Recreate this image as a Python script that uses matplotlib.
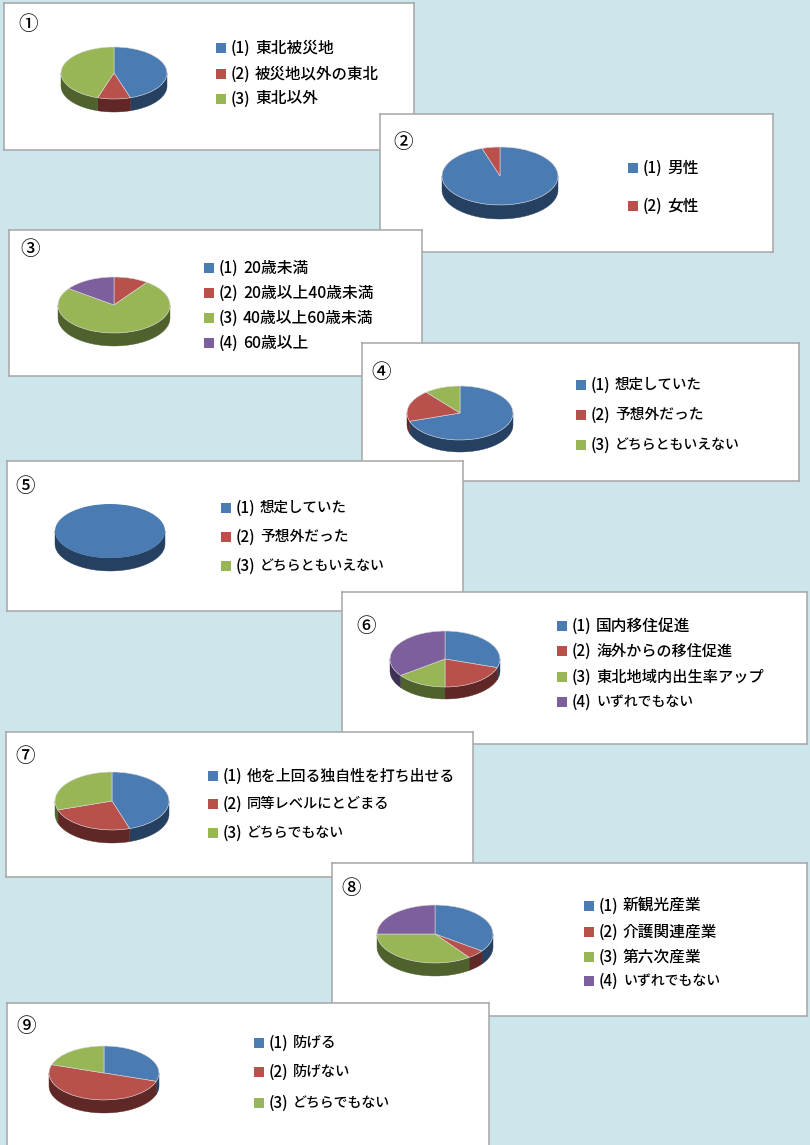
"""Nine survey answers shown as 3D-looking pies on overlapping white cards."""

import matplotlib
matplotlib.use("Agg")
import matplotlib.pyplot as plt
import numpy as np

plt.rcParams["font.family"] = ["Noto Sans CJK JP", "DejaVu Sans"]

# ---------------------------------------------------------------------------
# Data
# ---------------------------------------------------------------------------

MARKS = ["①", "②", "③", "④", "⑤", "⑥", "⑦", "⑧", "⑨"]

q1_labels = ["東北被災地", "被災地以外の東北", "東北以外"]
q1_values = [45, 10, 45]
q2_labels = ["男性", "女性"]
q2_values = [95, 5]
q3_labels = ["20歳未満", "20歳以上40歳未満", "40歳以上60歳未満", "60歳以上"]
q3_values = [0, 10, 75, 15]
q4_labels = ["想定していた", "予想外だった", "どちらともいえない"]
q4_values = [70, 19, 11]
q5_labels = ["想定していた", "予想外だった", "どちらともいえない"]
q5_values = [100, 0, 0]
q6_labels = ["国内移住促進", "海外からの移住促進", "東北地域内出生率アップ", "いずれでもない"]
q6_values = [30, 20, 15, 35]
q7_labels = ["他を上回る独自性を打ち出せる", "同等レベルにとどまる", "どちらでもない"]
q7_values = [45, 25, 30]
q8_labels = ["新観光産業", "介護関連産業", "第六次産業", "いずれでもない"]
q8_values = [35, 5, 35, 25]
q9_labels = ["防げる", "防げない", "どちらでもない"]
q9_values = [30, 50, 20]

ALL_LABELS = [q1_labels, q2_labels, q3_labels, q4_labels, q5_labels,
              q6_labels, q7_labels, q8_labels, q9_labels]
ALL_VALUES = [q1_values, q2_values, q3_values, q4_values, q5_values,
              q6_values, q7_values, q8_values, q9_values]

# ---------------------------------------------------------------------------
# Layout, all in pixels of the 810x1145 picture
# ---------------------------------------------------------------------------

W, H = 810, 1145

CARDS = [(4, 3, 414, 150), (380, 114, 773, 252), (9, 230, 422, 376),
         (362, 343, 799, 481), (7, 461, 463, 611), (342, 592, 807, 744),
         (6, 732, 473, 877), (332, 863, 807, 1016), (7, 1003, 489, 1165)]
# cx, cy, rx, ry, depth
PIES = [(114, 73, 53, 26, 13), (500, 176, 58, 29, 14), (114, 305, 56, 28, 13),
        (460, 413, 53, 27, 12), (110, 531, 55, 27, 13), (445, 659, 55, 28, 12),
        (112, 801, 57, 29, 13), (435, 934, 58, 29, 13), (104, 1073, 55, 27, 13)]
MARK_XY = [(28, 24), (403, 142), (30, 249), (381, 372), (25, 487),
           (366, 626), (25, 757), (351, 888), (26, 1027)]
LEGEND_X = [216, 628, 204, 576, 221, 557, 208, 584, 254]
LEGEND_Y = [[48, 74, 99], [168, 206], [268, 293, 318, 343], [385, 415, 445],
            [508, 537, 566], [626, 651, 677, 702], [776, 804, 833],
            [906, 932, 957, 981], [1043, 1072, 1103]]

TOP_COLORS = ["#4A7BB3", "#B8504C", "#99B656", "#7C5F9C"]
SIDE_COLORS = ["#264061", "#5F2725", "#4F612C", "#3F3153"]
BACKGROUND = "#CDE6EC"
BORDER = "#A6A6A6"
FONT_PT = 10.9


def label_size(label):
    """Font size in points; the reference sets kana tighter than kanji."""
    target = 0.0
    ems = 0.0
    for ch in label:
        if ch.isdigit():
            target += 8.8
            ems += 0.555
        elif "\u3040" <= ch <= "\u30ff":
            target += 13.9
            ems += 1.0
        else:
            target += 15.7
            ems += 1.0
    return target / ems * 0.72


def draw_pie(fig, values, cx, cy, rx, ry, depth, zorder):
    """Pie on its own axes, squashed to an ellipse, with a front wall under it."""
    pad = 1.5
    left, right = cx - rx - pad, cx + rx + pad
    top, bottom = cy - ry - pad, cy + ry + depth + pad
    ax = fig.add_axes([left / W, 1 - bottom / H, (right - left) / W, (bottom - top) / H])
    ax.set_zorder(zorder)
    ax.patch.set_visible(False)

    drop = depth / ry
    total = sum(values)
    start = 0.0
    for value, color in zip(values, SIDE_COLORS):
        end = start + 360.0 * value / total
        a, b = max(start, 90.0), min(end, 270.0)
        if b > a:
            t = np.radians(np.linspace(a, b, 60))
            xs = np.sin(t)
            ys = np.cos(t)
            ax.fill(np.r_[xs, xs[::-1]], np.r_[ys, ys[::-1] - drop],
                    color=color, lw=0.3)
        start = end

    # a lone full slice would otherwise show its seam at the top
    seam = 0.4 if sum(v > 0 for v in values) > 1 else 0
    ax.pie(values, colors=TOP_COLORS, startangle=90, counterclock=False, radius=1,
           wedgeprops={"edgecolor": "#D9D9D9", "linewidth": seam})
    ax.set_aspect("auto")
    ax.set_xlim(-(rx + pad) / rx, (rx + pad) / rx)
    ax.set_ylim(-1 - drop - pad / ry, 1 + pad / ry)


def draw_card(fig, i):
    x0, y0, x1, y1 = CARDS[i]
    ax = fig.add_axes([x0 / W, 1 - y1 / H, (x1 - x0) / W, (y1 - y0) / H])
    ax.set_zorder(2 * i)
    ax.set_xlim(x0, x1)
    ax.set_ylim(y1, y0)
    ax.set_xticks([])
    ax.set_yticks([])
    ax.set_facecolor("white")
    for spine in ax.spines.values():
        spine.set_color(BORDER)
        spine.set_linewidth(1.1)

    mx, my = MARK_XY[i]
    ax.text(mx, my, MARKS[i], fontsize=14, fontweight="medium",
            ha="center", va="center", color="black")

    lx = LEGEND_X[i]
    for j, (label, ly) in enumerate(zip(ALL_LABELS[i], LEGEND_Y[i])):
        ax.scatter([lx + 5], [ly], marker="s", s=48, color=TOP_COLORS[j], linewidths=0)
        ax.text(lx + 15, ly, f"({j + 1})", fontsize=FONT_PT, fontweight="medium",
                ha="left", va="center", color="black")
        ax.text(lx + 39, ly, label, fontsize=label_size(label), fontweight="medium",
                ha="left", va="center", color="black")

    cx, cy, rx, ry, depth = PIES[i]
    draw_pie(fig, ALL_VALUES[i], cx, cy, rx, ry, depth, 2 * i + 1)


fig = plt.figure(figsize=(W / 100, H / 100), dpi=100, facecolor=BACKGROUND)
for i in range(len(CARDS)):
    draw_card(fig, i)

fig.savefig("out.png", dpi=100, facecolor=BACKGROUND)
plt.close(fig)
